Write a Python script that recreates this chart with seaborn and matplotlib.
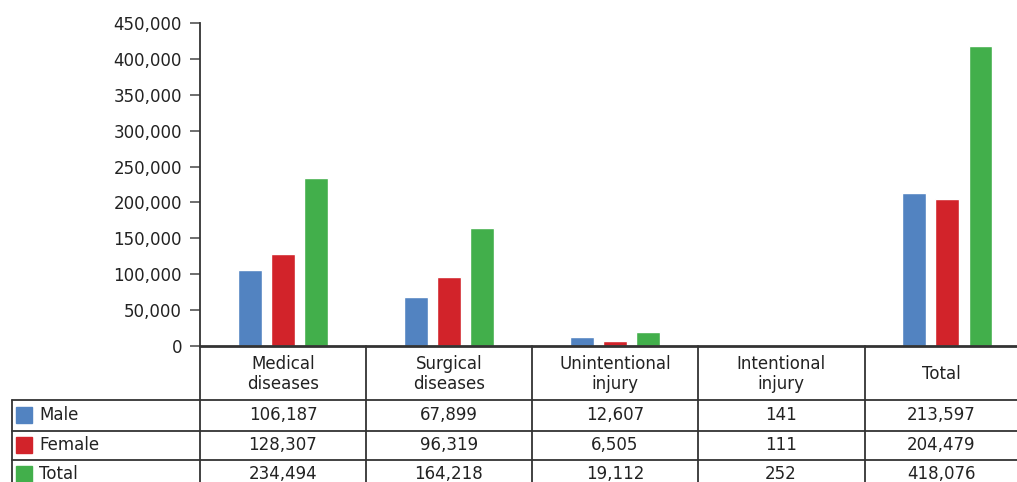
import matplotlib
matplotlib.use("Agg")
import matplotlib.pyplot as plt
import seaborn as sns
import pandas as pd
from matplotlib.patches import Rectangle
from matplotlib.lines import Line2D

categories = ["Medical\ndiseases", "Surgical\ndiseases", "Unintentional\ninjury", "Intentional\ninjury", "Total"]
series = ["Male", "Female", "Total"]
male = [106187, 67899, 12607, 141, 213597]
female = [128307, 96319, 6505, 111, 204479]
total = [234494, 164218, 19112, 252, 418076]
colors = ["#5283C1", "#D2232A", "#42AF4B"]
yticks = [0, 50000, 100000, 150000, 200000, 250000, 300000, 350000, 400000, 450000]

rows = []
for s, vals in zip(series, [male, female, total]):
    for c, v in zip(categories, vals):
        rows.append({"cat": c, "series": s, "value": v})
df = pd.DataFrame(rows)

sns.set_style("white")
plt.rcParams['font.family'] = ['DejaVu Sans']
W, H = 1017, 482
fig = plt.figure(figsize=(W / 100, H / 100), dpi=100)
ax = fig.add_axes([200 / W, 1 - 346 / H, (W - 200) / W, (346 - 23) / H])

sns.barplot(data=df, x="cat", y="value", hue="series", palette=colors,
            width=0.6, gap=0.28, ax=ax, legend=False, saturation=1)

ax.set_ylim(0, 450000)
ax.set_xlim(-0.5, 4.42)
ax.set_yticks(yticks)
ax.set_yticklabels([f"{v:,}" for v in yticks], fontsize=12, color="#222222")
ax.set_xticks([])
ax.set_xlabel("")
ax.set_ylabel("")
ax.tick_params(axis="y", left=True, length=7, width=1.2, color="#555555", pad=6)
for sp in ["top", "right"]:
    ax.spines[sp].set_visible(False)
ax.spines["left"].set_color("#333333")
ax.spines["left"].set_linewidth(1.3)
ax.spines["bottom"].set_color("#333333")
ax.spines["bottom"].set_linewidth(2)

# table below
def fx(x):
    return x / W

def fy(y):
    return 1 - y / H

lc = "#333333"
col_edges = [200, 366, 532, 698, 865]
for x in col_edges:
    fig.add_artist(Line2D([fx(x), fx(x)], [fy(346), fy(482)], color=lc, lw=1.3))
fig.add_artist(Line2D([fx(12), fx(12)], [fy(400), fy(482)], color=lc, lw=1.3))
for y in [400, 431, 460]:
    fig.add_artist(Line2D([fx(12), fx(W)], [fy(y), fy(y)], color=lc, lw=1.3))

col_centers = [283, 449, 615, 781, 941]
for cx, c in zip(col_centers, categories):
    fig.text(fx(cx), fy(374), c, ha="center", va="center", fontsize=12,
             color="#222222", linespacing=1.2)

row_centers = [415, 445, 474]
for ry, s, col, vals in zip(row_centers, series, colors, [male, female, total]):
    fig.add_artist(Rectangle((fx(16), fy(ry + 8)), fx(16), 16 / H, color=col,
                             transform=fig.transFigure))
    fig.text(fx(39), fy(ry), s, ha="left", va="center", fontsize=12, color="#222222")
    for cx, v in zip(col_centers, vals):
        fig.text(fx(cx), fy(ry), f"{v:,}", ha="center", va="center", fontsize=12,
                 color="#222222")

fig.savefig("out.png", dpi=100)
